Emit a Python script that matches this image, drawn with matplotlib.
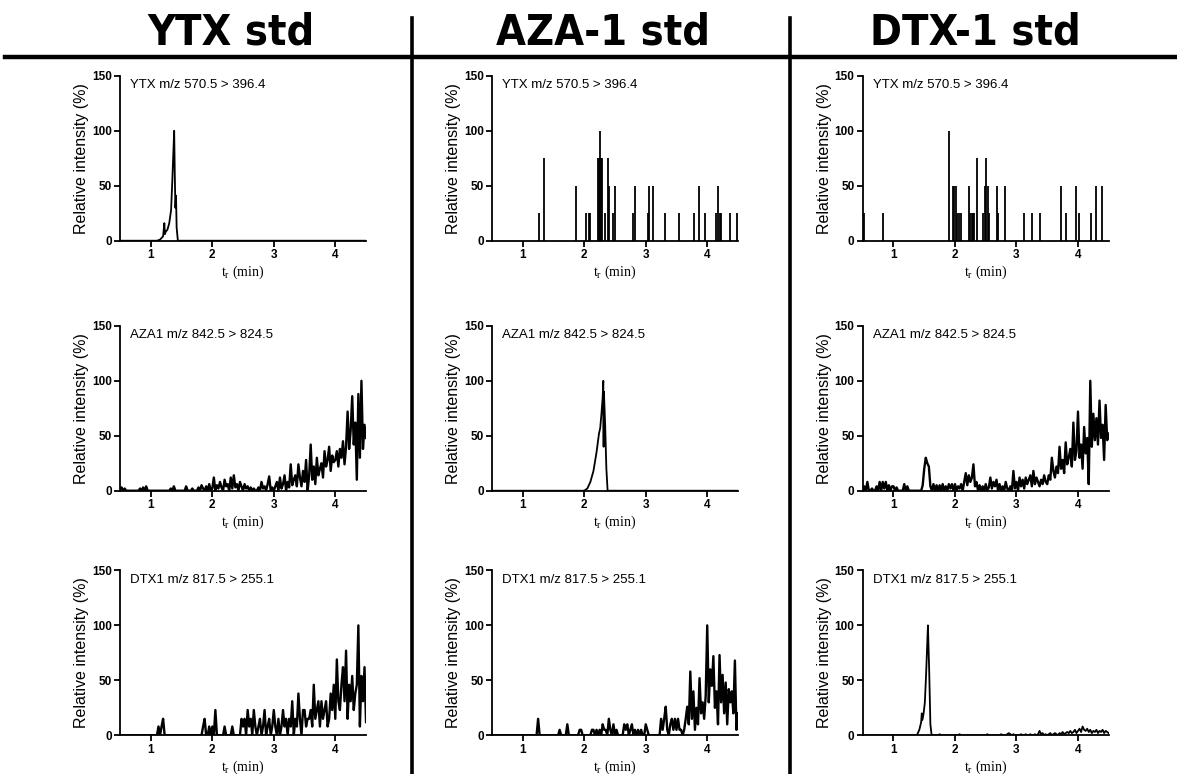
import numpy as np
import matplotlib.pyplot as plt

plt.rcParams['font.family'] = ['Liberation Sans', 'DejaVu Sans']

col_titles = ['YTX std', 'AZA-1 std', 'DTX-1 std']
row_labels = ['YTX m/z 570.5 > 396.4', 'AZA1 m/z 842.5 > 824.5', 'DTX1 m/z 817.5 > 255.1']

# --- row 1: YTX transition ---
ytx_in_ytx_t = [0.5, 1.10, 1.15, 1.20, 1.22, 1.23, 1.24, 1.27, 1.30, 1.33, 1.35, 1.37, 1.38,
                1.39, 1.40, 1.41, 1.42, 1.44, 4.5]
ytx_in_ytx_v = [0, 0, 1, 4, 16, 6, 8, 10, 16, 28, 55, 85, 100, 60, 30, 41, 12, 0, 0]

ytx_in_aza_t = [1.27, 1.35, 1.87, 2.03, 2.07, 2.10, 2.22, 2.24, 2.26, 2.28, 2.29, 2.33, 2.38, 2.40,
                2.47, 2.50, 2.79, 2.82, 3.03, 3.05, 3.12, 3.31, 3.54, 3.79, 3.87, 3.97, 4.15,
                4.18, 4.20, 4.23, 4.37, 4.48]
ytx_in_aza_v = [25, 75, 50, 25, 25, 25, 75, 75, 100, 75, 75, 25, 75, 50,
                25, 50, 25, 50, 25, 50, 50, 25, 25, 25, 50, 25, 25,
                50, 25, 25, 25, 25]

ytx_in_dtx_t = [0.52, 0.83, 1.90, 1.97, 1.99, 2.01, 2.03, 2.06, 2.09, 2.22, 2.24, 2.27, 2.29, 2.31,
                2.35, 2.45, 2.49, 2.51, 2.54, 2.56, 2.68, 2.70, 2.82, 3.12, 3.25, 3.39, 3.72,
                3.81, 3.97, 4.02, 4.21, 4.30, 4.39]
ytx_in_dtx_v = [25, 25, 100, 50, 50, 50, 25, 25, 25, 50, 25, 25, 25, 25,
                75, 25, 50, 75, 50, 25, 50, 25, 50, 25, 25, 25, 50,
                25, 50, 25, 25, 50, 50]

# --- row 2: AZA1 transition ---
aza_in_ytx = [0, 3, 0, 2, 0, 0, 0, 0, 0, 0,
              0, 0, 0, 2, 0, 3, 0, 4, 0, 0,
              0, 0, 0, 0, 0, 0, 0, 0, 0, 0,
              0, 0, 0, 2, 0, 4, 0, 0, 0, 0,
              0, 0, 0, 4, 0, 0, 0, 2, 0, 0,
              0, 3, 0, 5, 2, 0, 4, 0, 6, 0,
              2, 12, 0, 5, 2, 8, 3, 0, 10, 4,
              6, 0, 12, 2, 14, 3, 6, 0, 8, 4,
              0, 6, 2, 4, 0, 3, 0, 2, 0, 0,
              3, 0, 8, 2, 4, 0, 6, 13, 0, 3,
              0, 4, 8, 0, 12, 2, 6, 14, 0, 8,
              3, 24, 5, 10, 14, 4, 24, 12, 4, 18,
              8, 28, 0, 14, 42, 10, 22, 6, 30, 14,
              20, 25, 12, 36, 22, 28, 40, 18, 32, 26,
              28, 36, 22, 38, 30, 45, 24, 40, 72, 38,
              55, 86, 42, 62, 10, 88, 30, 100, 38, 60,
              48]

aza_in_aza_t = [0.5, 2.00, 2.05, 2.10, 2.15, 2.20, 2.24, 2.26, 2.28, 2.30, 2.31, 2.315, 2.32,
                2.34, 2.36, 2.38, 4.5]
aza_in_aza_v = [0, 0, 2, 8, 18, 35, 52, 57, 70, 85, 100, 40, 90, 60, 20, 0, 0]

aza_in_dtx = [0, 4, 0, 8, 0, 0, 2, 0, 0, 4,
              0, 8, 0, 8, 2, 8, 0, 5, 0, 4,
              4, 0, 3, 0, 0, 0, 0, 6, 0, 4,
              0, 0, 0, 0, 0, 0, 0, 0, 0, 5,
              20, 30, 25, 22, 4, 0, 6, 0, 5, 0,
              5, 0, 6, 0, 4, 0, 6, 2, 6, 0,
              6, 0, 4, 2, 6, 0, 8, 16, 5, 14,
              8, 12, 24, 4, 8, 0, 5, 0, 4, 0,
              6, 0, 3, 12, 2, 8, 4, 10, 0, 6,
              0, 4, 0, 8, 2, 0, 4, 0, 18, 2,
              8, 0, 12, 4, 10, 2, 12, 6, 10, 14,
              4, 18, 6, 12, 8, 4, 10, 6, 14, 8,
              6, 14, 10, 30, 18, 12, 22, 16, 40, 20,
              28, 16, 44, 24, 30, 38, 22, 62, 28, 36,
              72, 30, 42, 20, 58, 34, 48, 6, 100, 40,
              70, 46, 66, 42, 82, 48, 60, 28, 78, 46,
              52]

# --- row 3: DTX1 transition ---
dtx_in_ytx = [0] * 20 + [
              0, 0, 0, 0, 0, 8, 0, 8, 15, 0] + [0] * 20 + [
              0, 0, 0, 0, 8, 15, 0, 0, 8, 0,
              8, 0, 23, 0, 0, 0, 0, 0, 8, 0,
              0, 0, 0, 8, 0, 0, 0, 0, 0, 15,
              8, 15, 0, 23, 8, 15, 0, 23, 8, 0,
              8, 15, 0, 8, 23, 0, 8, 15, 0, 8,
              23, 8, 0, 15, 0, 8, 23, 8, 15, 0,
              15, 8, 31, 0, 15, 8, 38, 15, 0, 23,
              23, 8, 15, 15, 23, 8, 46, 15, 23, 31,
              8, 31, 15, 23, 31, 8, 15, 38, 23, 46,
              15, 69, 31, 23, 46, 62, 31, 77, 15, 46,
              31, 54, 23, 38, 46, 100, 8, 54, 31, 62,
              12]

dtx_in_aza = [0] * 30 + [
              15, 0, 0, 0, 0, 0, 0, 0, 0, 0,
              0, 0, 0, 0, 5, 0, 0, 0, 0, 10,
              0, 0, 0, 0, 0, 0, 0, 5, 5, 0,
              0, 0, 0, 0, 0, 5, 5, 0, 5, 0,
              5, 0, 10, 5, 5, 0, 15, 5, 0, 10,
              0, 5, 0, 0, 0, 0, 10, 5, 10, 0,
              5, 10, 0, 5, 0, 5, 0, 5, 0, 0,
              10, 5, 0, 0, 0, 0, 0, 0, 0, 0,
              15, 5, 15, 26, 5, 0, 10, 15, 5, 15,
              5, 15, 5, 5, 0, 5, 15, 26, 10, 58,
              15, 40, 5, 25, 10, 52, 20, 30, 15, 36,
              100, 30, 60, 45, 72, 25, 40, 10, 73, 30,
              55, 20, 48, 10, 42, 30, 40, 20, 68, 5,
              20]

dtx_in_dtx_t = [0.5, 1.38, 1.42, 1.45, 1.46, 1.47, 1.49, 1.51, 1.53, 1.55, 1.56, 1.58, 1.60, 1.62]
dtx_in_dtx_v = [0, 0, 5, 12, 20, 14, 20, 30, 55, 85, 100, 60, 10, 0]
dtx_in_dtx_tail = [0, 0, 0, 0, 0, 1, 0, 0, 0, 0,
                   0, 0, 0, 0, 0, 0, 0, 0, 1, 0,
                   0, 0, 0, 0, 0, 0, 0, 0, 0, 0,
                   0, 0, 0, 0, 0, 0, 1, 0, 0, 0,
                   0, 0, 0, 0, 0, 1, 0, 0, 0, 1,
                   2, 1, 0, 1, 0, 0, 0, 0, 1, 0,
                   0, 1, 0, 0, 1, 0, 0, 1, 0, 1,
                   4, 1, 2, 0, 1, 0, 1, 2, 0, 1,
                   2, 1, 0, 2, 1, 3, 1, 2, 3, 2,
                   4, 2, 3, 5, 2, 4, 6, 3, 8, 5,
                   4, 6, 3, 5, 2, 4, 3, 5, 2, 4,
                   3, 5, 2, 4, 3, 2]

fig = plt.figure(figsize=(11.77, 7.74), dpi=100)

lefts = [0.102, 0.418, 0.733]
bottoms = [0.689, 0.366, 0.050]
w, h = 0.209, 0.213


def style(ax, label):
    ax.set_xlim(0.5, 4.5)
    ax.set_ylim(0, 150)
    ax.set_xticks([1, 2, 3, 4])
    ax.set_yticks([0, 50, 100, 150])
    for s in ['top', 'right']:
        ax.spines[s].set_visible(False)
    for s in ['left', 'bottom']:
        ax.spines[s].set_linewidth(1.3)
    ax.tick_params(width=1.3, length=4, labelsize=8.5, pad=2)
    for lab in ax.get_xticklabels() + ax.get_yticklabels():
        lab.set_fontweight('bold')
    ax.set_ylabel('Relative intensity (%)', fontsize=11.5, labelpad=2)
    ax.set_xlabel(r'$\mathregular{t_r}$ (min)', fontsize=10, family='Liberation Serif', labelpad=2)
    ax.text(0.04, 0.98, label, transform=ax.transAxes, fontsize=9.5, va='top', ha='left')


axes = [[fig.add_axes([lefts[c], bottoms[r], w, h]) for c in range(3)] for r in range(3)]
lw = 1.3
nlw = 1.7  # noisy traces

# row 1
axes[0][0].plot(ytx_in_ytx_t, ytx_in_ytx_v, color='black', lw=lw)
axes[0][1].vlines(ytx_in_aza_t, 0, ytx_in_aza_v, color='black', lw=lw)
axes[0][2].vlines(ytx_in_dtx_t, 0, ytx_in_dtx_v, color='black', lw=lw)

# row 2
axes[1][0].plot(np.linspace(0.5, 4.5, len(aza_in_ytx)), aza_in_ytx, color='black', lw=nlw)
axes[1][1].plot(aza_in_aza_t, aza_in_aza_v, color='black', lw=lw)
axes[1][2].plot(np.linspace(0.5, 4.5, len(aza_in_dtx)), aza_in_dtx, color='black', lw=nlw)

# row 3
axes[2][0].plot(np.linspace(0.5, 4.5, len(dtx_in_ytx)), dtx_in_ytx, color='black', lw=nlw)
axes[2][1].plot(np.linspace(0.5, 4.5, len(dtx_in_aza)), dtx_in_aza, color='black', lw=nlw)
axes[2][2].plot(dtx_in_dtx_t, dtx_in_dtx_v, color='black', lw=lw)
axes[2][2].plot(np.linspace(1.625, 4.5, len(dtx_in_dtx_tail)), dtx_in_dtx_tail, color='black', lw=lw)

for r in range(3):
    for c in range(3):
        style(axes[r][c], row_labels[r])

# column headers and separators
for x, title in zip([0.196, 0.512, 0.829], col_titles):
    fig.text(x, 0.958, title, ha='center', va='center', fontsize=31, fontweight='bold',
             family='DejaVu Sans', fontstretch='condensed')
fig.add_artist(plt.Line2D([0.004, 1.0], [0.926, 0.926], color='black', lw=3.2))
fig.add_artist(plt.Line2D([0.350, 0.350], [0.0, 0.977], color='black', lw=2.6))
fig.add_artist(plt.Line2D([0.671, 0.671], [0.0, 0.977], color='black', lw=2.6))

fig.savefig('out.png', dpi=100, facecolor='white')
